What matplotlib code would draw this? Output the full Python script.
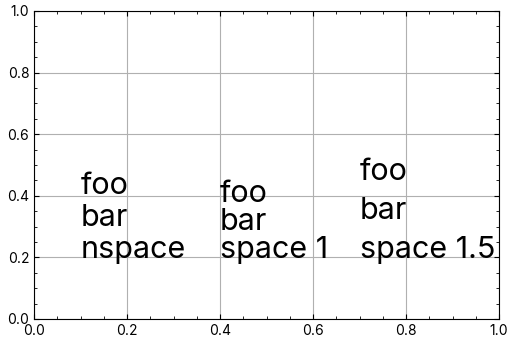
import matplotlib
matplotlib.use("Agg")
import matplotlib.pyplot as plt
from matplotlib.ticker import MultipleLocator
from matplotlib.transforms import offset_copy

# text blocks: x position, label, line spacing
xs = [0.1, 0.4, 0.7]
labels = ["foo\nbar\nnspace", "foo\nbar\nspace 1", "foo\nbar\nspace 1.5"]
spacings = [None, 1, 1.5]
y0 = 0.2

plt.rcParams['font.family'] = ['Inter', 'DejaVu Sans']

fig = plt.figure(figsize=(5.15, 3.45), dpi=100)
ax = fig.add_axes([34 / 515, 26 / 345, 465 / 515, 308 / 345])

# the reference font sits a bit lower on its box
tr = offset_copy(ax.transData, fig=fig, x=0, y=-7, units='dots')

for x, lab, ls in zip(xs, labels, spacings):
    if ls is None:
        ax.text(x, y0, lab, fontsize=22, va='bottom', transform=tr)
    else:
        ax.text(x, y0, lab, fontsize=22, va='bottom', linespacing=ls, transform=tr)

ax.set_xlim(0, 1)
ax.set_ylim(0, 1)
ax.xaxis.set_major_locator(MultipleLocator(0.2))
ax.yaxis.set_major_locator(MultipleLocator(0.2))
ax.xaxis.set_minor_locator(MultipleLocator(0.05))
ax.yaxis.set_minor_locator(MultipleLocator(0.05))
ax.tick_params(which='both', direction='in', top=True, right=True, labelsize=10)
ax.tick_params(which='major', length=3.5)
ax.tick_params(which='minor', length=2)
ax.grid(True, color='#b0b0b0', linewidth=0.8)

fig.savefig("out.png", dpi=100)
